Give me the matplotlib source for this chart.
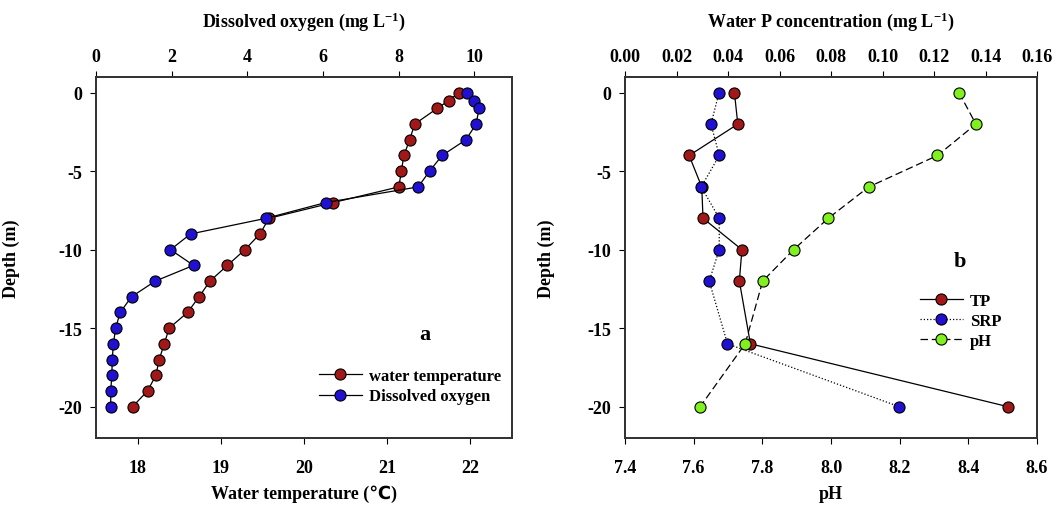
import matplotlib
matplotlib.use('Agg')
import matplotlib.pyplot as plt
from matplotlib.lines import Line2D

plt.rcParams['font.family'] = ['Liberation Serif', 'DejaVu Sans', 'Noto Sans CJK SC']
plt.rcParams['font.weight'] = 'bold'
plt.rcParams['axes.labelweight'] = 'bold'
plt.rcParams['axes.unicode_minus'] = False
plt.rcParams['mathtext.default'] = 'regular'

# panel a: depth profiles of temperature and dissolved oxygen
depth_a = [0, -0.5, -1, -2, -3, -4, -5, -6, -7, -8, -9, -10,
           -11, -12, -13, -14, -15, -16, -17, -18, -19, -20]
temp = [21.86, 21.74, 21.60, 21.33, 21.27, 21.20, 21.17, 21.14, 20.35, 19.58, 19.47, 19.29,
        19.08, 18.87, 18.74, 18.60, 18.38, 18.32, 18.26, 18.22, 18.12, 17.94]
dox = [9.80, 10.00, 10.13, 10.05, 9.78, 9.15, 8.82, 8.52, 6.07, 4.50, 2.50, 1.97,
       2.58, 1.57, 0.94, 0.64, 0.52, 0.46, 0.43, 0.42, 0.39, 0.39]

# panel b: phosphorus and pH
depth_b = [0, -2, -4, -6, -8, -10, -12, -16, -20]
tp = [0.0425, 0.0438, 0.0249, 0.0298, 0.0303, 0.0454, 0.0444, 0.0487, 0.1486]
srp = [0.0365, 0.0334, 0.0366, 0.0296, 0.0366, 0.0366, 0.0327, 0.0398, 0.1064]
ph = [8.373, 8.422, 8.310, 8.110, 7.992, 7.891, 7.801, 7.750, 7.619]

red = '#a01818'
blue = '#2010d0'
green = '#80f020'

FS = 13


def style(ax):
    for s in ax.spines.values():
        s.set_linewidth(1.3)
        s.set_color('#333333')


fig = plt.figure(figsize=(10.57, 5.06), dpi=100)

# ---- panel a ----
ax1 = fig.add_axes([0.0908, 0.1324, 0.3936, 0.7134])
ax1t = ax1.twiny()
mk = dict(marker='o', ms=8, mec='black', mew=0.8, color='black', lw=0.9)
ax1.plot(temp, depth_a, ls='-', mfc=red, **mk)
ax1t.plot(dox, depth_a, ls='-', mfc=blue, **mk)
ax1.set_xlim(17.5, 22.5)
ax1t.set_xlim(0, 11)
ax1.set_ylim(-22, 1)
ax1.set_xticks([18, 19, 20, 21, 22])
ax1t.set_xticks([0, 2, 4, 6, 8, 10])
ax1.set_yticks([0, -5, -10, -15, -20])
ax1.tick_params(axis='x', direction='out', length=4, pad=11, labelsize=FS)
ax1.tick_params(axis='y', direction='out', length=4, pad=6, labelsize=FS)
ax1t.tick_params(axis='x', direction='out', length=4, pad=5, labelsize=FS)
ax1.set_xlabel('Water temperature (℃)', fontsize=FS)
ax1.xaxis.set_label_coords(0.5, -0.13)
ax1t.set_xlabel('Dissolved oxygen (mg L$^{-1}$)', fontsize=FS)
ax1t.xaxis.set_label_coords(0.5, 1.142)
ax1.set_ylabel('Depth (m)', fontsize=FS)
ax1.yaxis.set_label_coords(-0.183, 0.5)
style(ax1)
style(ax1t)
ax1.text(0.79, 0.288, 'a', transform=ax1.transAxes, fontsize=16, ha='center', va='center')
h1 = [Line2D([], [], ls='-', mfc=red, **mk), Line2D([], [], ls='-', mfc=blue, **mk)]
ax1t.legend(h1, ['water temperature', 'Dissolved oxygen'], loc='center left',
            bbox_to_anchor=(0.535, 0.143), frameon=False, fontsize=12,
            handlelength=2.6, handletextpad=0.4, borderpad=0, borderaxespad=0,
            labelspacing=0.25)

# ---- panel b ----
ax2 = fig.add_axes([0.5913, 0.1324, 0.3898, 0.7134])
ax2t = ax2.twiny()
ax2.set_zorder(ax2t.get_zorder() + 1)
ax2.patch.set_visible(False)
ax2t.plot(tp, depth_b, ls='-', mfc=red, **mk)
ax2t.plot(srp, depth_b, ls=(0, (1, 1.6)), mfc=blue, **mk)
ax2.plot(ph, depth_b, ls=(0, (6, 3)), mfc=green, **mk)
ax2.set_xlim(7.4, 8.6)
ax2t.set_xlim(0, 0.16)
ax2.set_ylim(-22, 1)
ax2.set_xticks([7.4, 7.6, 7.8, 8.0, 8.2, 8.4, 8.6])
ax2.set_xticklabels(['7.4', '7.6', '7.8', '8.0', '8.2', '8.4', '8.6'])
ax2t.set_xticks([0, 0.02, 0.04, 0.06, 0.08, 0.10, 0.12, 0.14, 0.16])
ax2t.set_xticklabels(['0.00', '0.02', '0.04', '0.06', '0.08', '0.10', '0.12', '0.14', '0.16'])
ax2.set_yticks([0, -5, -10, -15, -20])
ax2.tick_params(axis='x', direction='out', length=4, pad=11, labelsize=FS)
ax2.tick_params(axis='y', direction='out', length=4, pad=6, labelsize=FS)
ax2t.tick_params(axis='x', direction='out', length=4, pad=5, labelsize=FS)
ax2.set_xlabel('pH', fontsize=FS)
ax2.xaxis.set_label_coords(0.5, -0.13)
ax2t.set_xlabel('Water P concentration (mg L$^{-1}$)', fontsize=FS)
ax2t.xaxis.set_label_coords(0.5, 1.142)
ax2.set_ylabel('Depth (m)', fontsize=FS)
ax2.yaxis.set_label_coords(-0.17, 0.5)
style(ax2)
style(ax2t)
ax2.text(0.813, 0.49, 'b', transform=ax2.transAxes, fontsize=16, ha='center', va='center')
h2 = [Line2D([], [], ls='-', mfc=red, **mk),
      Line2D([], [], ls=(0, (1, 1.6)), mfc=blue, **mk),
      Line2D([], [], ls=(0, (6, 3)), mfc=green, **mk)]
ax2.legend(h2, ['TP', 'SRP', 'pH'], loc='center left',
           bbox_to_anchor=(0.715, 0.325), frameon=False, fontsize=12,
           handlelength=2.6, handletextpad=0.4, borderpad=0, borderaxespad=0,
           labelspacing=0.25)

fig.savefig('out.png', dpi=100)
